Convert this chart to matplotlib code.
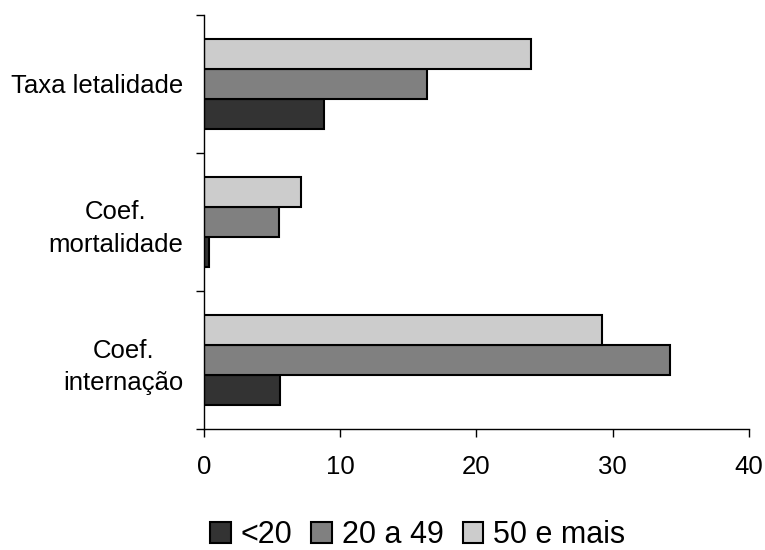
import numpy as np
import matplotlib
matplotlib.use('Agg')
import matplotlib.pyplot as plt

plt.rcParams['font.family'] = ['Liberation Sans', 'DejaVu Sans']

# categories, top to bottom
categories = ['Taxa letalidade', 'Coef.\nmortalidade', 'Coef.\ninternação']
series_names = ['<20', '20 a 49', '50 e mais']
under_20 = [8.8, 0.4, 5.6]
age_20_49 = [16.4, 5.5, 34.2]
age_50_plus = [24.0, 7.1, 29.2]
x_ticks = [0, 10, 20, 30, 40]

colors = ['#333333', '#808080', '#cccccc']

fig = plt.figure(figsize=(7.65, 5.5), dpi=100)
ax = fig.add_axes([0.2667, 0.2195, 0.712, 0.7538])

y = np.arange(len(categories))
h = 0.218
# on an inverted axis a positive offset moves the bar down
for vals, off, c, name in zip([under_20, age_20_49, age_50_plus], [h, 0, -h], colors, series_names):
    ax.barh(y + off, vals, height=h, color=c, edgecolor='black', linewidth=1.5, label=name)

ax.set_ylim(len(categories) - 0.5, -0.5)
ax.set_xlim(0, 40)
ax.set_xticks(x_ticks)

# tick marks at the category boundaries, labels at the centres
ax.set_yticks(np.arange(len(categories) + 1) - 0.5)
ax.set_yticklabels([])
ax.set_yticks(y, minor=True)
ax.set_yticklabels(categories, minor=True, multialignment='center', linespacing=1.45)
ax.tick_params(axis='y', which='minor', length=0, pad=15, labelsize=18.5)
ax.tick_params(axis='y', which='major', length=5.5, width=1.0, direction='out')
ax.tick_params(axis='x', length=5.5, width=1.0, pad=13, labelsize=18.5)

ax.spines['top'].set_visible(False)
ax.spines['right'].set_visible(False)
ax.spines['left'].set_linewidth(1.0)
ax.spines['bottom'].set_linewidth(1.0)

fig.legend(loc='center', bbox_to_anchor=(0.546, 0.027), ncol=3, frameon=False,
           fontsize=22, handlelength=0.66, handleheight=0.64, handletextpad=0.33,
           columnspacing=0.62, borderpad=0)

fig.savefig('out.png', dpi=100)
